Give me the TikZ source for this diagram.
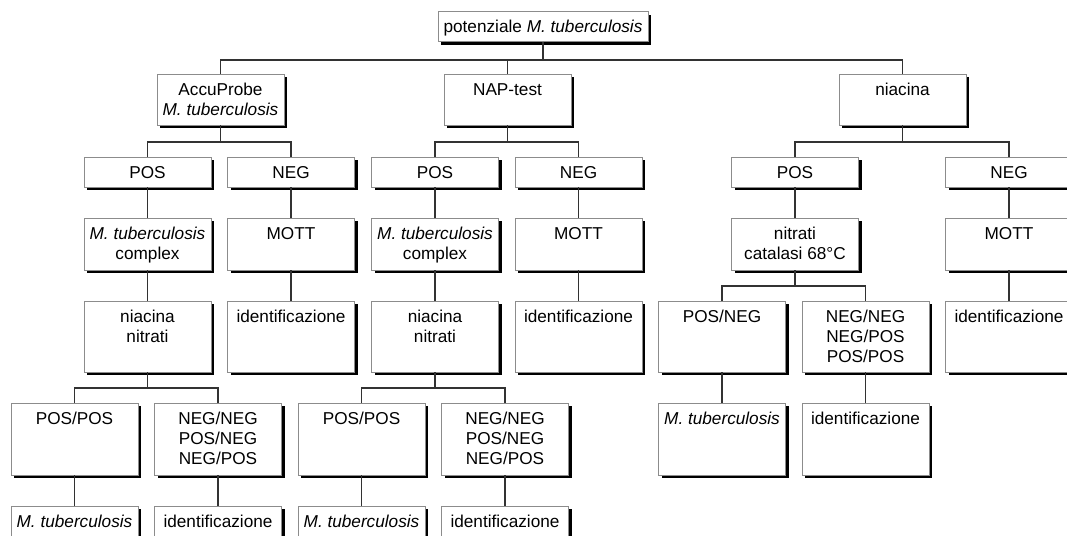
\documentclass[tikz,border=0pt]{standalone}
\usepackage{fontspec}
\setmainfont{Liberation Sans}
\usetikzlibrary{shadows}
\definecolor{bordergray}{RGB}{140,140,140}
\definecolor{linecol}{RGB}{50,50,50}
\newcommand{\bxt}[3]{\parbox[c][#2pt][t]{#1pt}{\centering\rule{0pt}{21pt}#3}}
\begin{document}
\begin{tikzpicture}[x=1pt,y=-1pt,
  bx/.style={draw=bordergray, line width=1pt, fill=white, inner sep=0pt, outer sep=0pt,
    anchor=north, font=\fontsize{17.2}{20}\selectfont,
    drop shadow={shadow xshift=3pt, shadow yshift=-3pt, fill=black, opacity=1}},
  conn/.style={draw=linecol, line width=1.3pt}]
\clip (0,0) rectangle (1067,535);
\fill[white] (0,0) rectangle (1067,535);
% level 1
\node[bx] (top) at (543,12) {\bxt{210}{30}{potenziale \textit{M. tuberculosis}}};
% level 2
\node[bx] (acc) at (220.5,74) {\bxt{127}{51}{AccuProbe\\\textit{M. tuberculosis}}};
\node[bx] (nap) at (507.5,74) {\bxt{127}{51}{NAP-test}};
\node[bx] (nia) at (902.5,74) {\bxt{127}{51}{niacina}};
% level 3
\node[bx] (pos1) at (147.5,157) {\bxt{127}{30}{POS}};
\node[bx] (neg1) at (291,157) {\bxt{127}{30}{NEG}};
\node[bx] (pos2) at (435,157) {\bxt{127}{30}{POS}};
\node[bx] (neg2) at (578.5,157) {\bxt{127}{30}{NEG}};
\node[bx] (pos3) at (795,157) {\bxt{127}{30}{POS}};
\node[bx] (neg3) at (1009,157) {\bxt{127}{30}{NEG}};
% level 4
\node[bx] (cx1) at (147.5,218) {\bxt{127}{52}{\textit{M. tuberculosis}\\complex}};
\node[bx] (mott1) at (291,218) {\bxt{127}{52}{MOTT}};
\node[bx] (cx2) at (435,218) {\bxt{127}{52}{\textit{M. tuberculosis}\\complex}};
\node[bx] (mott2) at (578.5,218) {\bxt{127}{52}{MOTT}};
\node[bx] (nc) at (795,218) {\bxt{127}{52}{nitrati\\catalasi 68°C}};
\node[bx] (mott3) at (1009,218) {\bxt{127}{52}{MOTT}};
% level 5
\node[bx] (nn1) at (147.5,301) {\bxt{127}{71}{niacina\\nitrati}};
\node[bx] (id1) at (291,301) {\bxt{127}{71}{identificazione}};
\node[bx] (nn2) at (435,301) {\bxt{127}{71}{niacina\\nitrati}};
\node[bx] (id2) at (578.5,301) {\bxt{127}{71}{identificazione}};
\node[bx] (pn) at (722,301) {\bxt{127}{71}{POS/NEG}};
\node[bx] (nnp) at (865.5,301) {\bxt{127}{71}{NEG/NEG\\NEG/POS\\POS/POS}};
\node[bx] (id3) at (1009,301) {\bxt{127}{71}{identificazione}};
% level 6
\node[bx] (pp1) at (74.5,403) {\bxt{127}{72}{POS/POS}};
\node[bx] (ng1) at (218,403) {\bxt{127}{72}{NEG/NEG\\POS/NEG\\NEG/POS}};
\node[bx] (pp2) at (361.5,403) {\bxt{127}{72}{POS/POS}};
\node[bx] (ng2) at (505,403) {\bxt{127}{72}{NEG/NEG\\POS/NEG\\NEG/POS}};
\node[bx] (mt3) at (722,403) {\bxt{127}{72}{\textit{M. tuberculosis}}};
\node[bx] (id4) at (865.5,403) {\bxt{127}{72}{identificazione}};
% level 7
\node[bx] (mt1) at (74.5,506) {\bxt{127}{71}{\textit{M. tuberculosis}}};
\node[bx] (id5) at (218,506) {\bxt{127}{71}{identificazione}};
\node[bx] (mt2) at (361.5,506) {\bxt{127}{71}{\textit{M. tuberculosis}}};
\node[bx] (id6) at (505,506) {\bxt{127}{71}{identificazione}};
% connectors
\foreach \c in {acc,nap,nia} \draw[conn] (top.south) -- ++(0,18) -| (\c.north);
\foreach \c in {pos1,neg1} \draw[conn] (acc.south) -- ++(0,17) -| (\c.north);
\foreach \c in {pos2,neg2} \draw[conn] (nap.south) -- ++(0,17) -| (\c.north);
\foreach \c in {pos3,neg3} \draw[conn] (nia.south) -- ++(0,17) -| (\c.north);
\draw[conn] (pos1.south) -- (cx1.north);
\draw[conn] (neg1.south) -- (mott1.north);
\draw[conn] (pos2.south) -- (cx2.north);
\draw[conn] (neg2.south) -- (mott2.north);
\draw[conn] (pos3.south) -- (nc.north);
\draw[conn] (neg3.south) -- (mott3.north);
\draw[conn] (cx1.south) -- (nn1.north);
\draw[conn] (mott1.south) -- (id1.north);
\draw[conn] (cx2.south) -- (nn2.north);
\draw[conn] (mott2.south) -- (id2.north);
\draw[conn] (mott3.south) -- (id3.north);
\foreach \c in {pn,nnp} \draw[conn] (nc.south) -- ++(0,16) -| (\c.north);
\foreach \c in {pp1,ng1} \draw[conn] (nn1.south) -- ++(0,16) -| (\c.north);
\foreach \c in {pp2,ng2} \draw[conn] (nn2.south) -- ++(0,16) -| (\c.north);
\draw[conn] (pn.south) -- (mt3.north);
\draw[conn] (nnp.south) -- (id4.north);
\draw[conn] (pp1.south) -- (mt1.north);
\draw[conn] (ng1.south) -- (id5.north);
\draw[conn] (pp2.south) -- (mt2.north);
\draw[conn] (ng2.south) -- (id6.north);
\end{tikzpicture}
\end{document}
